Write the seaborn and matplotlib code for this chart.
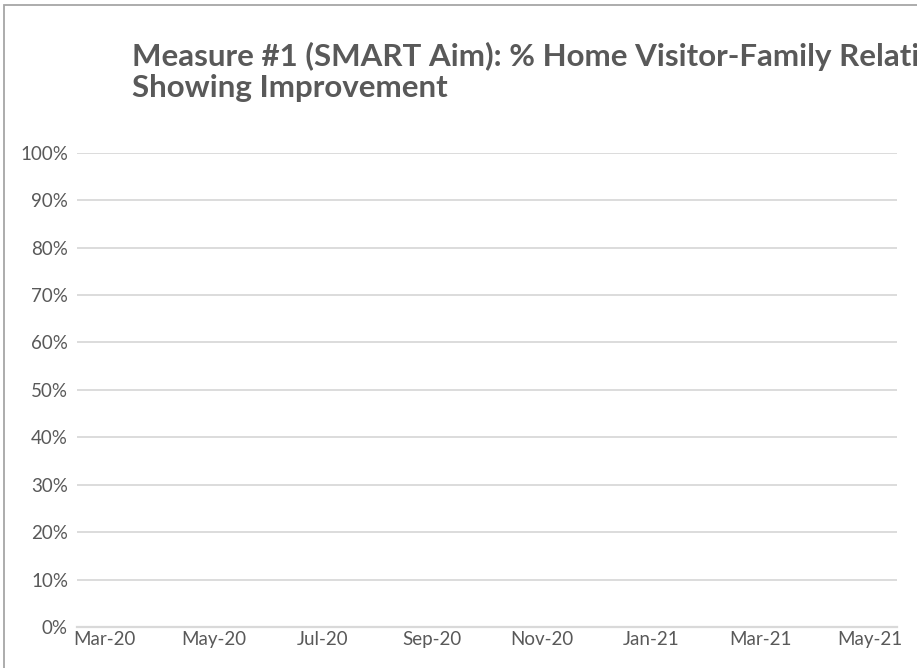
import numpy as np
import pandas as pd
import matplotlib.pyplot as plt
import seaborn as sns
from matplotlib.patches import Rectangle
from matplotlib.ticker import PercentFormatter

sns.set_theme(style='white')
plt.rcParams['font.family'] = ['Lato', 'DejaVu Sans']

# months on the category axis (no values entered yet)
months = ['Mar-20', 'Apr-20', 'May-20', 'Jun-20', 'Jul-20', 'Aug-20', 'Sep-20', 'Oct-20',
          'Nov-20', 'Dec-20', 'Jan-21', 'Feb-21', 'Mar-21', 'Apr-21', 'May-21']
pct_improving = [np.nan] * len(months)
y_ticks = [0, 0.1, 0.2, 0.3, 0.4, 0.5, 0.6, 0.7, 0.8, 0.9, 1.0]

df = pd.DataFrame({'mes': range(len(months)), 'pct': pct_improving})

grey_txt = '#595959'
grid_col = '#d9d9d9'

fig = plt.figure(figsize=(9.17, 6.68), dpi=100)
ax = fig.add_axes([77 / 917, 1 - 627 / 668, 820 / 917, (627 - 152.7) / 668])

sns.lineplot(data=df, x='mes', y='pct', ax=ax, color='#4472c4', marker='o')

ax.set_xlim(-0.5, len(months) - 0.5)
ax.set_ylim(0, 1)
ax.set_yticks(y_ticks)
ax.yaxis.set_major_formatter(PercentFormatter(1.0, decimals=0))
ax.set_xticks(range(0, len(months), 2))
ax.set_xticklabels(months[::2])
ax.tick_params(axis='both', length=0, colors=grey_txt, labelsize=13.5)
ax.tick_params(axis='y', pad=6.5)
ax.tick_params(axis='x', pad=3)
ax.grid(axis='y', color=grid_col, linewidth=1.3)
ax.set_axisbelow(True)
for s in ['top', 'right', 'left']:
    ax.spines[s].set_visible(False)
ax.spines['bottom'].set_color(grid_col)
ax.spines['bottom'].set_linewidth(1.6)
ax.set_xlabel('')
ax.set_ylabel('')

fig.text(132 / 917, 1 - 42 / 668,
         'Measure #1 (SMART Aim): % Home Visitor-Family Relationships\nShowing Improvement',
         ha='left', va='top', fontsize=22.5, fontweight='bold', color=grey_txt, linespacing=1.12)

# chart border (right and bottom are outside the crop)
fig.patches.append(Rectangle((4 / 917, -0.1), 1.2, 1 - 5 / 668 + 0.1, transform=fig.transFigure,
                             fill=False, edgecolor='#a6a6a6', linewidth=1.3))

plt.savefig('out.png', dpi=100)
plt.close()
